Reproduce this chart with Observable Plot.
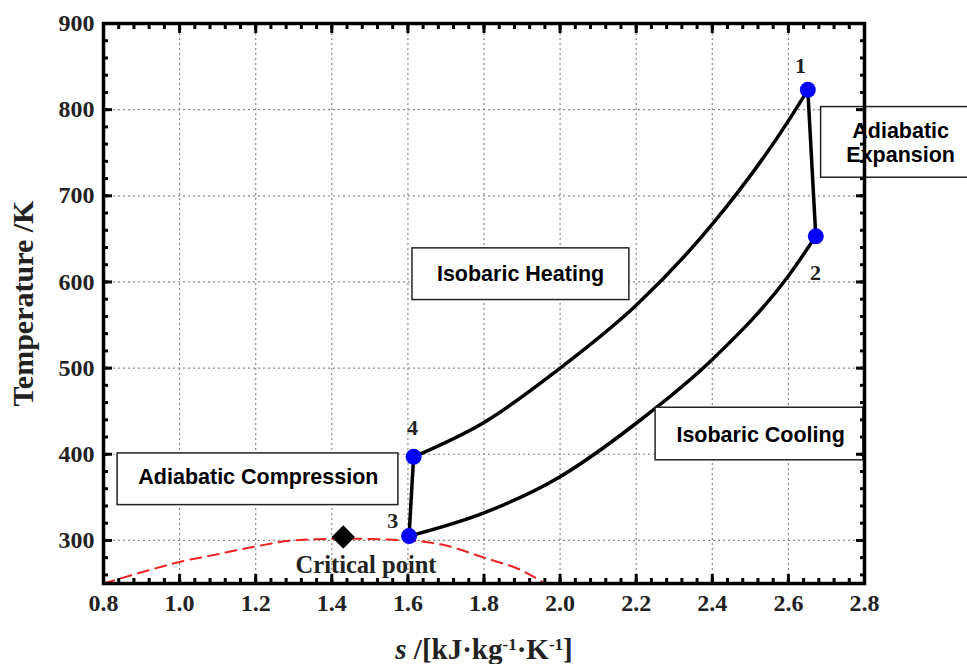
<!DOCTYPE html>
<html><head><meta charset="utf-8">
<script src="https://cdn.jsdelivr.net/npm/d3@7"></script>
<script src="https://cdn.jsdelivr.net/npm/@observablehq/plot@0.6"></script>
<style>html,body{margin:0;padding:0;background:#fff}</style>
</head><body><div id="chart"></div>
<script>
// Isobaric heating 4 -> 1
const heatingS = [1.615, 1.8, 2.0, 2.2, 2.4, 2.6, 2.651];
const heatingT = [397, 437, 500, 573, 667, 787, 823];
// Adiabatic expansion 1 -> 2
const expansionS = [2.651, 2.672];
const expansionT = [823, 653];
// Isobaric cooling 3 -> 2
const coolingS = [1.603, 1.8, 2.0, 2.2, 2.4, 2.6, 2.672];
const coolingT = [305, 332, 374, 436, 510, 607, 653];
// Adiabatic compression 3 -> 4
const compressionS = [1.603, 1.615];
const compressionT = [305, 397];
// State points
const stateName = ["1", "2", "3", "4"];
const stateS = [2.651, 2.672, 1.603, 1.615];
const stateT = [823, 653, 305, 397];
const stateLabelS = [2.632, 2.671, 1.56, 1.612];
const stateLabelT = [851, 610, 323, 430];
// Saturation dome (red dashed)
const domeS = [0.8, 0.9, 1.0, 1.1, 1.2, 1.3, 1.43, 1.6, 1.7, 1.8, 1.9, 1.96];
const domeT = [250, 263, 275, 284, 293, 300, 302, 300, 294, 280, 265, 250];
// Critical point
const criticalS = [1.43];
const criticalT = [304];
const criticalLabel = ["Critical point"];
const criticalLabelS = [1.49];
const criticalLabelT = [271];
// Annotation boxes
const boxText = ["Adiabatic\nExpansion", "Isobaric Heating", "Isobaric Cooling", "Adiabatic Compression"];
const boxS1 = [2.686, 1.612, 2.251, 0.837];
const boxS2 = [3.12, 2.182, 2.797, 1.575];
const boxT1 = [721, 579, 393, 341];
const boxT2 = [803, 639, 454, 401];
const boxTextS = [2.895, 1.896, 2.527, 1.207];
const boxTextT = [762, 610, 423, 374.5];
// Axis ticks
const xTicks = [0.8, 1.0, 1.2, 1.4, 1.6, 1.8, 2.0, 2.2, 2.4, 2.6, 2.8];
const yTicks = [300, 400, 500, 600, 700, 800, 900];
const xGrid = [1.0, 1.2, 1.4, 1.6, 1.8, 2.0, 2.2, 2.4, 2.6];
const yGrid = [300, 400, 500, 600, 700, 800];
const xMinor = d3.range(0, 51).map(i => +(0.8 + i * 0.04).toFixed(2));
const yMinor = d3.range(0, 33).map(i => 260 + i * 20);
const yTitle = "Temperature /K";
const xTitle = "s /[kJ·kg-1·K-1]";

const zip = (s, T, seg) => s.map((v, i) => ({s: v, T: T[i], seg}));
const cycle = [
  ...zip(heatingS, heatingT, "heating"),
  ...zip(expansionS, expansionT, "expansion"),
  ...zip(coolingS, coolingT, "cooling"),
  ...zip(compressionS, compressionT, "compression")
];
const dome = zip(domeS, domeT, "dome");
const states = stateName.map((n, i) => ({n, s: stateS[i], T: stateT[i], ls: stateLabelS[i], lT: stateLabelT[i]}));
const crit = criticalS.map((s, i) => ({s, T: criticalT[i], label: criticalLabel[i], ls: criticalLabelS[i], lT: criticalLabelT[i]}));
const boxes = boxText.map((t, i) => ({t, s1: boxS1[i], s2: boxS2[i], T1: boxT1[i], T2: boxT2[i], ts: boxTextS[i], tT: boxTextT[i]}));

const serif = "'Liberation Serif', 'Times New Roman', serif";
const sans = "'Liberation Sans', Arial, sans-serif";

const chart = Plot.plot({
  width: 967, height: 664,
  marginLeft: 103, marginRight: 103, marginTop: 23, marginBottom: 81,
  x: {domain: [0.8, 2.8], axis: null},
  y: {domain: [250, 900], axis: null},
  style: {fontFamily: serif, fontWeight: "bold", fontSize: "24px", color: "#000", background: "#fff"},
  marks: [
    Plot.gridX(xGrid, {stroke: "#888", strokeOpacity: 1, strokeWidth: 1.2, strokeDasharray: "2,3"}),
    Plot.gridY(yGrid, {stroke: "#888", strokeOpacity: 1, strokeWidth: 1.2, strokeDasharray: "2,3"}),
    Plot.line(dome, {x: "s", y: "T", stroke: "#ee2222", strokeWidth: 2, strokeDasharray: "11,7", curve: "monotone-x"}),
    Plot.line(cycle, {x: "s", y: "T", z: "seg", stroke: "#000", strokeWidth: 3.5, curve: "monotone-x"}),
    Plot.dot(states, {x: "s", y: "T", r: 8, fill: "#0000ff", stroke: "none"}),
    Plot.dot(crit, {x: "s", y: "T", symbol: "diamond2", r: 10.5, fill: "#000", stroke: "none"}),
    Plot.text(states, {x: "ls", y: "lT", text: "n", fontFamily: serif, fontWeight: "bold", fontSize: 22, fill: "#222"}),
    Plot.text(crit, {x: "ls", y: "lT", text: "label", fontFamily: serif, fontWeight: "bold", fontSize: 24.5, fill: "#222"}),
    Plot.rect(boxes, {x1: "s1", x2: "s2", y1: "T1", y2: "T2", fill: "#fff", stroke: "#222", strokeWidth: 1.5}),
    Plot.text(boxes, {x: "ts", y: "tT", text: "t", fontFamily: sans, fontWeight: "bold", fontSize: 21.5, lineHeight: 1.1, fill: "#000"}),
    Plot.frame({stroke: "#000", strokeWidth: 3.5}),
    // minor ticks (inward)
    Plot.axisX(xMinor, {anchor: "bottom", tickSize: -5, text: null, strokeWidth: 3, label: null}),
    Plot.axisX(xMinor, {anchor: "top", tickSize: -5, text: null, strokeWidth: 3, label: null}),
    Plot.axisY(yMinor, {anchor: "left", tickSize: -5, text: null, strokeWidth: 3, label: null}),
    Plot.axisY(yMinor, {anchor: "right", tickSize: -5, text: null, strokeWidth: 3, label: null}),
    // major ticks (inward) with labels
    Plot.axisX(xTicks, {anchor: "bottom", tickSize: -9, text: null, strokeWidth: 3, label: null}),
    Plot.axisX(xTicks, {anchor: "top", tickSize: -9, text: null, strokeWidth: 3, label: null}),
    Plot.axisY(yTicks, {anchor: "left", tickSize: -9, text: null, strokeWidth: 3, label: null}),
    Plot.axisY(yTicks, {anchor: "right", tickSize: -9, text: null, strokeWidth: 3, label: null}),
    Plot.axisX(xTicks, {anchor: "bottom", tickSize: 0, tickPadding: 10, tickFormat: d3.format(".1f"), label: null, fontSize: 24, fill: "#222"}),
    Plot.axisY(yTicks, {anchor: "left", tickSize: 0, tickPadding: 9, tickFormat: d3.format("d"), label: null, fontSize: 24, fill: "#222"}),
    // axis titles
    Plot.text([yTitle], {frameAnchor: "left", dx: -80, rotate: -90, textAnchor: "middle", lineAnchor: "middle", text: d => d, fontSize: 30, fontFamily: serif, fontWeight: "bold", fill: "#222"}),
    Plot.text([xTitle], {frameAnchor: "bottom", dy: 66, textAnchor: "middle", lineAnchor: "middle", text: d => d, fontSize: 29, fontFamily: serif, fontWeight: "bold", fill: "#222"})
  ]
});
document.getElementById("chart").appendChild(chart);

// Rich formatting of the x-axis title (italic s, superscript -1)
const xt = d3.select(chart).selectAll("text").filter(function () { return this.textContent === xTitle; });
if (!xt.empty()) {
  xt.text(null);
  const parts = [["s", "italic", false], [" /[kJ·kg", null, false], ["-1", null, true], ["·K", null, false], ["-1", null, true], ["]", null, false]];
  for (const [t, style, sup] of parts) {
    const ts = xt.append("tspan").text(t);
    if (style) ts.attr("font-style", style);
    if (sup) ts.attr("font-size", "17px").attr("baseline-shift", "super");
  }
}
</script>
</body></html>
